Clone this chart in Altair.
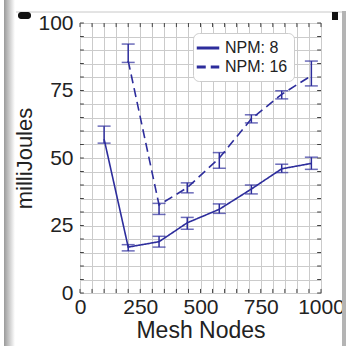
import altair as alt
import pandas as pd

# ---- data ----
series_names = ["NPM: 8", "NPM: 16"]

npm8_x = [100, 200, 328, 445, 578, 711, 837, 960]
npm8_mean = [57, 17, 19, 26, 31, 38.5, 46, 48]
npm8_lo = [55.5, 15.6, 17, 23.6, 29.5, 36.7, 44.6, 45.8]
npm8_hi = [61.8, 17.9, 21, 28, 33, 40, 47.7, 50.3]

npm16_x = [200, 328, 445, 578, 711, 837, 960]
npm16_mean = [86, 32.6, 39, 50, 64.5, 73.6, 80.5]
npm16_lo = [85.4, 29.1, 37.1, 46.2, 63, 71.9, 76.7]
npm16_hi = [92.2, 33.2, 40.8, 52, 66, 74.9, 85.9]

x_grid = list(range(0, 1001, 50))
y_grid = list(range(0, 101, 5))

C = "#2d2d9c"
FONT = "Liberation Sans"

rows = []
for name, xs, m, lo, hi in [
    (series_names[0], npm8_x, npm8_mean, npm8_lo, npm8_hi),
    (series_names[1], npm16_x, npm16_mean, npm16_lo, npm16_hi),
]:
    for i in range(len(xs)):
        rows.append({"series": name, "nodes": xs[i], "mj": m[i], "lo": lo[i], "hi": hi[i]})
df = pd.DataFrame(rows)

xscale = alt.Scale(domain=[0, 1000], nice=False, zero=False)
yscale = alt.Scale(domain=[0, 100], nice=False, zero=False)

x_axis = alt.Axis(
    values=x_grid, title="Mesh Nodes", grid=True, gridColor="#cbcbcb", gridWidth=1,
    ticks=False, domain=False, format="d",
    labelExpr="datum.value % 250 == 0 ? datum.label : ''",
    labelFont=FONT, labelFontSize=21, labelColor="#222", labelPadding=3,
    labelFlush=False, labelOverlap=False,
    titleFont=FONT, titleFontSize=23, titleFontWeight="normal", titleColor="#222", titlePadding=2,
)
y_axis = alt.Axis(
    values=y_grid, title="milliJoules", grid=True, gridColor="#cbcbcb", gridWidth=1,
    ticks=False, domain=False, format="d",
    labelExpr="datum.value % 25 == 0 ? datum.label : ''",
    labelFont=FONT, labelFontSize=21, labelColor="#222", labelPadding=7,
    labelFlush=False, labelOverlap=False,
    titleFont=FONT, titleFontSize=22, titleFontWeight="normal", titleColor="#222", titlePadding=1,
)


def X(field):
    return alt.X(field, scale=xscale, axis=x_axis, title="Mesh Nodes")


def Y(field):
    return alt.Y(field, scale=yscale, axis=y_axis, title="milliJoules")


def XD(v):
    return alt.XDatum(v, scale=xscale, axis=x_axis, title="Mesh Nodes")


def YD(v):
    return alt.YDatum(v, scale=yscale, axis=y_axis, title="milliJoules")


base = alt.Chart(df)

lines = base.mark_line(strokeWidth=1.6, color=C).encode(
    x=X("nodes:Q"),
    y=Y("mj:Q"),
    strokeDash=alt.StrokeDash(
        "series:N",
        scale=alt.Scale(domain=series_names, range=[[1, 0], [9, 5]]),
        legend=alt.Legend(
            title=None, orient="none", legendX=113, legendY=10,
            symbolType="M-1.5,0H1.5", symbolSize=225, symbolStrokeWidth=3,
            symbolStrokeColor=C,
            labelFont=FONT, labelFontSize=16, labelColor="#222",
            padding=6, rowPadding=2, strokeColor="#cccccc", cornerRadius=6,
            fillColor="white", labelOffset=8,
        ),
    ),
    detail="series:N",
)

err = base.mark_rule(strokeWidth=1.5, color=C).encode(
    x=X("nodes:Q"), y=Y("lo:Q"), y2="hi:Q"
)
cap_lo = base.mark_tick(orient="horizontal", size=13, thickness=1.5, color=C).encode(
    x=X("nodes:Q"), y=Y("lo:Q")
)
cap_hi = base.mark_tick(orient="horizontal", size=13, thickness=1.5, color=C).encode(
    x=X("nodes:Q"), y=Y("hi:Q")
)

# inward frame ticks
xt = pd.DataFrame({"v": x_grid})
yt = pd.DataFrame({"v": y_grid})
tick_style = dict(color="#444", strokeWidth=1)
bt = alt.Chart(xt).mark_rule(**tick_style).encode(x=X("v:Q"), y=YD(0), y2=alt.datum(1.5))
tt = alt.Chart(xt).mark_rule(**tick_style).encode(x=X("v:Q"), y=YD(100), y2=alt.datum(98.5))
lt = alt.Chart(yt).mark_rule(**tick_style).encode(y=Y("v:Q"), x=XD(0), x2=alt.datum(16))
rt = alt.Chart(yt).mark_rule(**tick_style).encode(y=Y("v:Q"), x=XD(1000), x2=alt.datum(984))

# screenshot edge decorations (not data)
left_band = alt.Chart(pd.DataFrame({"a": [0]})).mark_rect(
    fill=alt.Gradient(gradient="linear", x1=0, x2=1, y1=0, y2=0,
                      stops=[alt.GradientStop(color="#9a9a9a", offset=0),
                             alt.GradientStop(color="#ffffff", offset=1)])
).encode(x=alt.value(-76), x2=alt.value(-65), y=alt.value(-23), y2=alt.value(323))
right_band = alt.Chart(pd.DataFrame({"a": [0]})).mark_rect(color="#b4b4b4").encode(
    x=alt.value(262), x2=alt.value(266), y=alt.value(-12), y2=alt.value(323))
top_line = alt.Chart(pd.DataFrame({"a": [0]})).mark_rule(color="#c8c8c8", strokeWidth=1).encode(
    x=alt.value(-64), x2=alt.value(262), y=alt.value(-11))
black_block = alt.Chart(pd.DataFrame({"a": [0]})).mark_rect(color="#111").encode(
    x=alt.value(252), x2=alt.value(258), y=alt.value(-11), y2=alt.value(-3))
black_curve = alt.Chart(pd.DataFrame({"a": [0]})).mark_rect(color="#111", cornerRadius=3).encode(
    x=alt.value(-62), x2=alt.value(-49), y=alt.value(-11), y2=alt.value(-4))

chart = alt.layer(left_band, right_band, top_line, black_block, black_curve,
                  lines, bt, tt, lt, rt, err, cap_lo, cap_hi).properties(
    width=241, height=270,
    autosize=alt.AutoSizeParams(type="none"),
    padding={"left": 80, "top": 23, "right": 25, "bottom": 53},
).configure_view(stroke="#333", strokeWidth=1.5).configure(background="white")

chart.save("out.html", embed_options={"renderer": "svg", "actions": False})
